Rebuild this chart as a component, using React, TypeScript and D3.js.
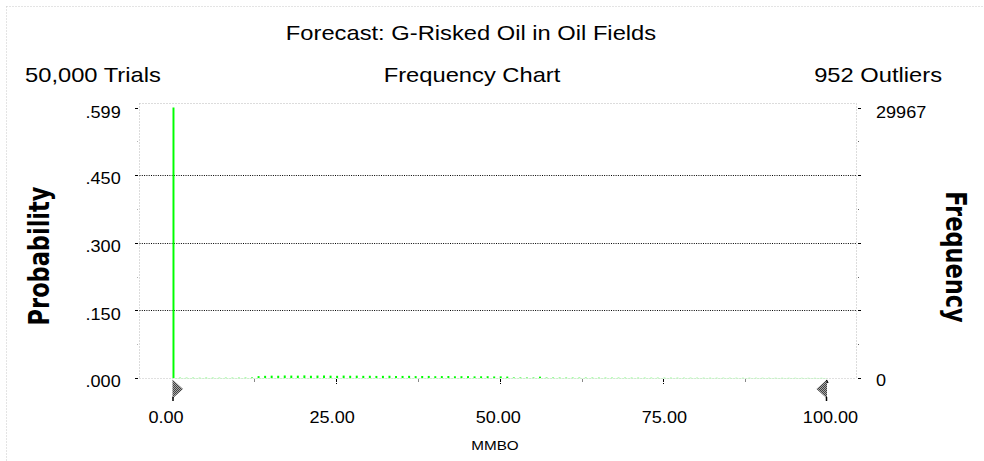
import React from "react";
import * as d3 from "d3";

// ---- data ----
const trials = 50000;
const outliers = 952;
const binWidth = 1; // MMBO per bin
// frequency per bin, index = bin start (MMBO)
const frequencies = [
  29967,
  30, 25, 28, 22, 30, 26, 24, 29, 27, 31, 35, 60,
  210, 240, 260, 250, 280, 270, 260, 290, 250, 270, 280, 260, 240,
  270, 250, 260, 240, 250, 230, 240, 250, 220, 230, 240, 210, 220,
  230, 200, 210, 220, 190, 200, 210, 180, 190, 200, 170, 180, 160,
  60, 55, 50, 50, 150, 45, 45, 40, 40, 38, 36, 35, 34, 32, 30, 30,
  28, 28, 26, 26, 25, 24, 24, 22, 22, 21, 20, 20, 19, 18, 18, 17,
  17, 16, 16, 15, 15, 14, 14, 13, 13, 12, 12, 12, 11, 11, 10, 10,
];
const xMajorTicks = [0, 25, 50, 75, 100];
const xMinorTicks = [12.5, 37.5, 62.5, 87.5];
const titleText = "Forecast: G-Risked Oil in Oil Fields";
const subLeft = "50,000 Trials";
const subCenter = "Frequency Chart";
const subRight = `${outliers} Outliers`;
const xLabel = "MMBO";
const yLeftLabel = "Probability";
const yRightLabel = "Frequency";

const W = 984;
const H = 461;
const SX = 1.13; // horizontal stretch of the original rendering
const FONT = "'Liberation Sans', Arial, sans-serif";
const BOLD_FONT = "'DejaVu Sans Condensed', 'DejaVu Sans', sans-serif";

const plot = { left: 139.5, right: 856.5, top: 103.5, bottom: 378 };

function Txt(props: {
  x: number; y: number; size: number; anchor?: string; children: React.ReactNode;
  rotate?: number; family?: string; weight?: string | number; fill?: string; stretch?: string;
}) {
  const { x, y, size, anchor = "start", children, rotate = 0, family = FONT, weight = "normal", fill = "#000", stretch } = props;
  return (
    <text
      transform={`translate(${x},${y}) scale(${SX},1)${rotate ? ` rotate(${rotate})` : ""}`}
      fontSize={size}
      fontFamily={family}
      fontWeight={weight}
      textAnchor={anchor}
      fill={fill}
      style={stretch ? { fontStretch: stretch } : undefined}
    >
      {children}
    </text>
  );
}

export default function App() {
  const maxFreq = d3.max(frequencies) as number;
  const maxProb = maxFreq / trials;
  const xDomainMax = xMajorTicks[xMajorTicks.length - 1];

  const x = d3.scaleLinear().domain([0, xDomainMax]).range([172.5, 827]);
  const xLab = d3.scaleLinear().domain([0, xDomainMax]).range([166, 830.5]);
  const y = d3.scaleLinear().domain([0, maxProb]).range([plot.bottom, 107.5]);

  const quarters = [0, 1, 2, 3, 4].map((k) => (maxProb * k) / 4);
  const eighths = d3.range(0, 9).map((k) => (maxProb * k) / 8);
  const fmtProb = (v: number) => d3.format(".3f")(v).replace(/^0/, "");
  const fmtX = d3.format(".2f");

  const barW = (x(binWidth) - x(0)) * 0.3;

  const hl = (yy: number) => Math.round(yy) + 0.5;

  return (
    <svg
      width={W}
      height={H}
      style={{ position: "absolute", left: 0, top: 0, background: "#fff" }}
    >
      <defs>
        <pattern id="chk" width={2} height={2} patternUnits="userSpaceOnUse">
          <rect width={2} height={2} fill="#a8a8a8" />
          <rect width={1} height={1} fill="#404040" />
          <rect x={1} y={1} width={1} height={1} fill="#404040" />
        </pattern>
      </defs>

      {/* outer dotted frame */}
      <line x1={6.5} y1={6.5} x2={W} y2={6.5} stroke="#c8c8c8" strokeDasharray="1 2" />
      <line x1={6.5} y1={6.5} x2={6.5} y2={H} stroke="#c8c8c8" strokeDasharray="1 2" />

      {/* titles */}
      <Txt x={471} y={40} size={21} anchor="middle">{titleText}</Txt>
      <Txt x={25} y={82} size={21}>{subLeft}</Txt>
      <Txt x={472} y={82} size={21} anchor="middle">{subCenter}</Txt>
      <Txt x={942} y={82} size={21} anchor="end">{subRight}</Txt>

      {/* plot frame (light dotted) */}
      <line x1={plot.left} y1={plot.top} x2={plot.right} y2={plot.top} stroke="#b8b8b8" strokeDasharray="1 2" />
      <line x1={plot.left} y1={plot.top} x2={plot.left} y2={plot.bottom} stroke="#b8b8b8" strokeDasharray="1 2" />
      <line x1={plot.right} y1={plot.top} x2={plot.right} y2={plot.bottom} stroke="#b8b8b8" strokeDasharray="1 2" />

      {/* gridlines */}
      {quarters.slice(1, 4).map((q, i) => (
        <line key={i} x1={plot.left} x2={plot.right} y1={hl(y(q))} y2={hl(y(q))} stroke="#000" strokeDasharray="1 1.3" />
      ))}

      {/* left/right ticks */}
      {eighths.map((q, i) => (
        <g key={i}>
          <line x1={i % 2 === 0 ? 135 : 137.5} x2={138} y1={hl(y(q))} y2={hl(y(q))} stroke={i % 2 === 0 ? "#000" : "#666"} />
          <line x1={858} x2={i % 2 === 0 ? 861 : 859} y1={hl(y(q))} y2={hl(y(q))} stroke={i % 2 === 0 ? "#000" : "#666"} />
        </g>
      ))}

      {/* baseline */}
      <line x1={plot.left} x2={plot.right} y1={plot.bottom + 0.5} y2={plot.bottom + 0.5} stroke="#c0c0c0" strokeDasharray="1 2" />
      <line x1={x(0)} x2={x(xDomainMax)} y1={plot.bottom + 0.5} y2={plot.bottom + 0.5} stroke="#c8f0c8" strokeDasharray="2 1" />

      {/* bars */}
      {frequencies.map((f, i) => {
        const p = f / trials;
        const y0 = y(p);
        return (
          <rect key={i} x={x(i * binWidth)} y={y0} width={barW} height={plot.bottom - y0} fill="#00ff00" />
        );
      })}

      {/* x ticks */}
      {xMajorTicks.slice(1, 4).map((t) => (
        <line key={t} x1={Math.round(x(t)) + 0.5} x2={Math.round(x(t)) + 0.5} y1={379} y2={384} stroke="#000" strokeDasharray="3 1" />
      ))}
      {xMinorTicks.map((t) => (
        <line key={t} x1={Math.round(x(t)) + 0.5} x2={Math.round(x(t)) + 0.5} y1={379} y2={382} stroke="#888" />
      ))}

      {/* certainty grabbers */}
      <polygon points={`${x(0)},379.5 ${x(0) + 10.5},389 ${x(0)},398.5`} fill="url(#chk)" />
      <line x1={x(0) + 0.5} x2={x(0) + 0.5} y1={397} y2={401} stroke="#000" strokeWidth={1.5} />
      <polygon points={`${x(xDomainMax)},379.5 ${x(xDomainMax) - 10.5},389 ${x(xDomainMax)},398.5`} fill="url(#chk)" />
      <line x1={x(xDomainMax) - 0.5} x2={x(xDomainMax) - 0.5} y1={397} y2={401} stroke="#000" strokeWidth={1.5} />
      <line x1={x(xDomainMax) - 0.5} x2={x(xDomainMax) + 1} y1={380} y2={383} stroke="#000" strokeWidth={1.2} />

      {/* left axis labels */}
      {quarters.map((q, i) => (
        <Txt key={i} x={120.7} y={y(q) + (i === 4 ? 10.8 : 9.2)} size={16} anchor="end">{fmtProb(q)}</Txt>
      ))}
      {/* right axis labels */}
      <Txt x={876} y={118.3} size={16}>{String(maxFreq)}</Txt>
      <Txt x={876} y={386} size={16}>{"0"}</Txt>

      {/* x labels */}
      {xMajorTicks.map((t) => (
        <Txt key={t} x={xLab(t)} y={423} size={16} anchor="middle">{fmtX(t)}</Txt>
      ))}
      <Txt x={495} y={450} size={13.5} anchor="middle">{xLabel}</Txt>

      {/* axis titles */}
      <Txt x={49} y={256} size={25} anchor="middle" rotate={-90} family={BOLD_FONT} weight="bold" stretch="condensed">{yLeftLabel}</Txt>
      <Txt x={946} y={257} size={25} anchor="middle" rotate={90} family={BOLD_FONT} weight="bold" stretch="condensed">{yRightLabel}</Txt>
    </svg>
  );
}
